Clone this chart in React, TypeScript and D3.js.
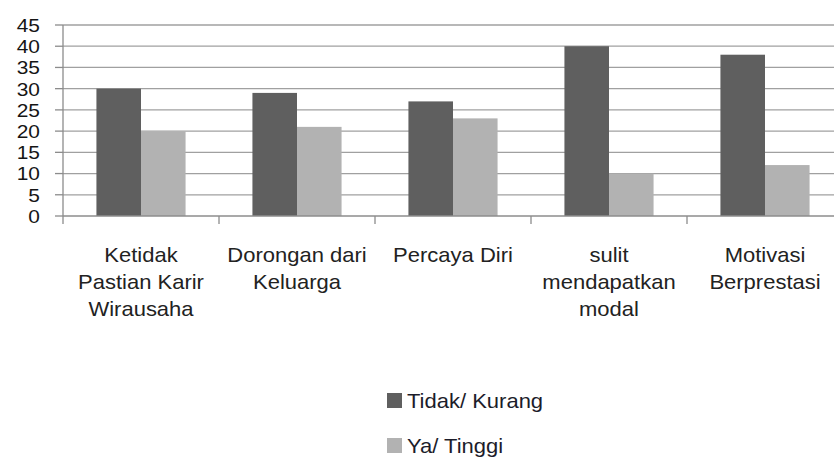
import React, { useEffect, useRef } from 'react';
import * as d3 from 'd3';

const categories = [
  ['Ketidak', 'Pastian Karir', 'Wirausaha'],
  ['Dorongan dari', 'Keluarga'],
  ['Percaya Diri'],
  ['sulit', 'mendapatkan', 'modal'],
  ['Motivasi', 'Berprestasi'],
];
const seriesNames = ['Tidak/ Kurang', 'Ya/ Tinggi'];
const tidak = [30, 29, 27, 40, 38];
const ya = [20, 21, 23, 10, 12];
const yTicks = [0, 5, 10, 15, 20, 25, 30, 35, 40, 45];
const colors = ['#5f5f5f', '#b2b2b2'];

const App = () => {
  const ref = useRef<SVGSVGElement>(null);

  useEffect(() => {
    const svg = d3.select(ref.current);
    svg.selectAll('*').remove();
    const font = '"Liberation Sans", Arial, sans-serif';
    const sx = 1.1; // stretch text wide like the original face
    // plot runs past the right edge of the picture (it is cropped there)
    const left = 63, right = 843, top = 25, bottom = 216;

    const x0 = d3.scaleBand<number>().domain(d3.range(categories.length)).range([left, right]);
    const x1 = d3.scaleBand<number>().domain([0, 1]).range([0, x0.bandwidth()]).paddingOuter(0.75).paddingInner(0);
    const y = d3.scaleLinear().domain([0, 45]).range([bottom, top]);

    // grid lines
    svg.append('g').selectAll('line').data(yTicks.slice(1)).enter().append('line')
      .attr('x1', left).attr('x2', right)
      .attr('y1', d => y(d)).attr('y2', d => y(d))
      .attr('stroke', '#a0a0a0').attr('stroke-width', 1.3);

    // bars
    const g = svg.append('g').selectAll('g').data(categories.map((_, i) => i)).enter().append('g')
      .attr('transform', d => 'translate(' + x0(d) + ',0)');
    g.selectAll('rect')
      .data(i => [tidak[i], ya[i]].map((v, k) => ({ k, v })))
      .enter().append('rect')
      .attr('x', d => x1(d.k)!)
      .attr('width', x1.bandwidth())
      .attr('y', d => y(d.v))
      .attr('height', d => bottom - y(d.v))
      .attr('fill', d => colors[d.k]);

    // y axis
    svg.append('line').attr('x1', left).attr('x2', left).attr('y1', top).attr('y2', bottom)
      .attr('stroke', '#8c8c8c').attr('stroke-width', 1.3);
    svg.append('g').selectAll('line').data(yTicks).enter().append('line')
      .attr('x1', left - 8).attr('x2', left)
      .attr('y1', d => y(d)).attr('y2', d => y(d))
      .attr('stroke', '#8c8c8c').attr('stroke-width', 1.3);
    svg.append('g').selectAll('text').data(yTicks).enter().append('text')
      .attr('transform', d => 'translate(40,' + y(d) + ') scale(' + sx + ',1)')
      .attr('dy', '0.36em')
      .attr('text-anchor', 'end').attr('font-family', font).attr('font-size', 19)
      .attr('fill', '#151515').text(d => d);

    // x axis
    svg.append('line').attr('x1', left).attr('x2', right).attr('y1', bottom).attr('y2', bottom)
      .attr('stroke', '#8c8c8c').attr('stroke-width', 1.3);
    const xt = d3.range(categories.length + 1).map(i => i < categories.length ? x0(i)! : right);
    svg.append('g').selectAll('line').data(xt).enter().append('line')
      .attr('x1', d => d).attr('x2', d => d).attr('y1', bottom).attr('y2', bottom + 8)
      .attr('stroke', '#8c8c8c').attr('stroke-width', 1.3);

    const labels = svg.append('g').selectAll('text').data(categories).enter().append('text')
      .attr('text-anchor', 'middle').attr('font-family', font).attr('font-size', 20)
      .attr('fill', '#222')
      .attr('transform', (_, i) => 'translate(' + (x0(i)! + x0.bandwidth() / 2) + ',0) scale(' + sx + ',1)');
    labels.selectAll('tspan').data(d => d).enter().append('tspan')
      .attr('x', 0).attr('y', (_, j) => 262 + j * 27).text(d => d);

    // legend
    const lg = svg.append('g').selectAll('g').data(seriesNames).enter().append('g')
      .attr('transform', (_, i) => 'translate(387,' + (408 + i * 45) + ')');
    lg.append('rect').attr('x', 0).attr('y', -15).attr('width', 15).attr('height', 15)
      .attr('fill', (_, i) => colors[i]);
    lg.append('text').attr('transform', 'translate(20,0) scale(' + sx + ',1)')
      .attr('font-family', font).attr('font-size', 20).attr('fill', '#1c1c2a').text(d => d);
  }, []);

  return (
    <svg ref={ref} width={834} height={459}
      style={{ position: 'absolute', left: 0, top: 0, background: '#fff' }} />
  );
};

export default App;
